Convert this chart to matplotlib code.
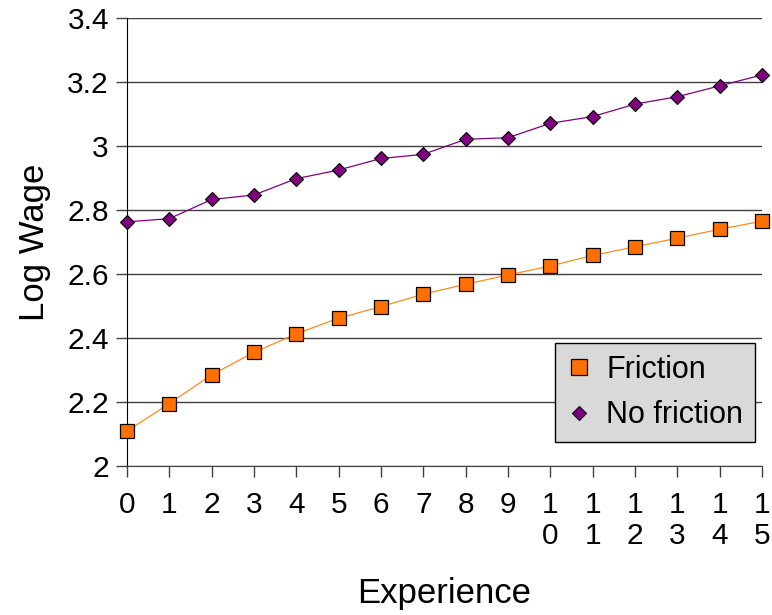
import matplotlib
matplotlib.use('Agg')
import matplotlib.pyplot as plt
from matplotlib.lines import Line2D

plt.rcParams['font.family'] = ['Liberation Sans', 'DejaVu Sans']

experience = list(range(16))
friction = [2.109, 2.195, 2.285, 2.355, 2.413, 2.462, 2.498, 2.537,
            2.568, 2.597, 2.625, 2.658, 2.685, 2.712, 2.740, 2.765]
no_friction = [2.763, 2.773, 2.833, 2.847, 2.898, 2.925, 2.961, 2.974,
               3.021, 3.026, 3.071, 3.092, 3.131, 3.154, 3.188, 3.222]
yticks = [2, 2.2, 2.4, 2.6, 2.8, 3, 3.2, 3.4]
ytick_labels = ['2', '2.2', '2.4', '2.6', '2.8', '3', '3.2', '3.4']

orange = '#ff7000'
orange_line = '#ff8c1a'
purple = '#800080'

fig = plt.figure(figsize=(7.72, 6.15), dpi=100)
ax = fig.add_axes([0.1645, 0.2423, 0.8225, 0.7284])

ax.plot(experience, friction, color=orange_line, lw=0.9, marker='s', ms=10.5,
        mfc=orange, mec='black', mew=0.9, clip_on=False, zorder=3)
ax.plot(experience, no_friction, color=purple, lw=0.9, marker='D', ms=7.2,
        mfc=purple, mec='black', mew=0.8, clip_on=False, zorder=3)

ax.set_xlim(0, 15)
ax.set_ylim(2, 3.4)
ax.set_yticks(yticks)
ax.set_yticklabels(ytick_labels)
ax.set_xticks(experience)
ax.set_xticklabels(['\n'.join(str(e)) for e in experience], linespacing=1.12)

ax.grid(axis='y', color='#404040', lw=1)
ax.set_axisbelow(True)
for s in ['top', 'right']:
    ax.spines[s].set_visible(False)
ax.spines['left'].set_color('black')
ax.spines['bottom'].set_color('#404040')
ax.tick_params(axis='both', direction='out', labelsize=21.5, length=8, width=1,
               colors='#404040', labelcolor='black')
ax.tick_params(axis='x', pad=10)
ax.tick_params(axis='y', pad=5)

ax.set_xlabel('Experience', fontsize=25, labelpad=20)
ax.set_ylabel('Log Wage', fontsize=25, labelpad=12)

handles = [
    Line2D([], [], ls='none', marker='s', ms=11, mfc=orange, mec='black', mew=0.9),
    Line2D([], [], ls='none', marker='D', ms=7.5, mfc=purple, mec='black', mew=0.8),
]
leg = ax.legend(handles, ['Friction', 'No friction'], loc='lower left',
                bbox_to_anchor=(0.674, 0.0536), borderaxespad=0, fontsize=22,
                frameon=True, fancybox=False, facecolor='#d9d9d9',
                edgecolor='black', framealpha=1, handlelength=0.8,
                handletextpad=0.5, borderpad=0.38, labelspacing=0.5)
leg.get_frame().set_linewidth(1)

fig.savefig('out.png', dpi=100)
